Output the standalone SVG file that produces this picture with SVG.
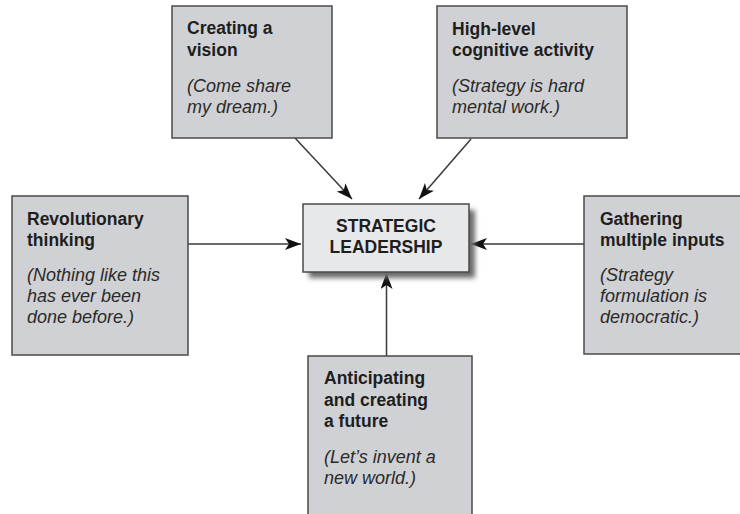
<svg xmlns="http://www.w3.org/2000/svg" width="740" height="514" viewBox="0 0 740 514">
  <style>
    .box { fill: #d0d1d4; stroke: #4a4a4a; stroke-width: 1.5; }
    .core { fill: #e7e8ea; stroke: #4a4a4a; stroke-width: 1.5; }
    .title { font-family: "Liberation Sans", Arial, sans-serif; font-size: 17.5px; font-weight: bold; fill: #1e1e1e; }
    .note { font-family: "Liberation Sans", Arial, sans-serif; font-size: 18px; font-style: italic; fill: #2a2a2a; }
    .link { stroke: #3a3a3a; stroke-width: 1.5; fill: none; marker-end: url(#head); }
  </style>
  <defs>
    <marker id="head" markerUnits="userSpaceOnUse" markerWidth="18" markerHeight="14" refX="16" refY="6" orient="auto">
      <path d="M0,0 L16,6 L0,12 L4,6 z" fill="#111"/>
    </marker>
    <filter id="soft" x="-20%" y="-30%" width="140%" height="160%">
      <feGaussianBlur stdDeviation="2.5"/>
    </filter>
  </defs>

  <rect width="740" height="514" fill="#ffffff"/>

  <g id="connectors">
    <line class="link" x1="295" y1="138" x2="352" y2="199"/>
    <line class="link" x1="471" y1="139" x2="419" y2="199"/>
    <line class="link" x1="188" y1="244" x2="301" y2="244"/>
    <line class="link" x1="584" y1="244" x2="471" y2="244"/>
    <line class="link" x1="386.5" y1="356" x2="386.5" y2="273"/>
  </g>

  <g id="vision">
    <rect class="box" x="172" y="6" width="160" height="132"/>
    <text class="title" x="187" y="34">Creating a</text>
    <text class="title" x="187" y="56">vision</text>
    <text class="note" x="187" y="92">(Come share</text>
    <text class="note" x="187" y="113">my dream.)</text>
  </g>

  <g id="cognitive">
    <rect class="box" x="437" y="6" width="190" height="132"/>
    <text class="title" x="452" y="35">High-level</text>
    <text class="title" x="452" y="56">cognitive activity</text>
    <text class="note" x="452" y="92">(Strategy is hard</text>
    <text class="note" x="452" y="113">mental work.)</text>
  </g>

  <g id="revolutionary">
    <rect class="box" x="12" y="196" width="176" height="159"/>
    <text class="title" x="27" y="225">Revolutionary</text>
    <text class="title" x="27" y="246">thinking</text>
    <text class="note" x="27" y="281">(Nothing like this</text>
    <text class="note" x="27" y="302">has ever been</text>
    <text class="note" x="27" y="323">done before.)</text>
  </g>

  <g id="inputs">
    <rect class="box" x="584" y="196" width="170" height="158"/>
    <text class="title" x="600" y="225">Gathering</text>
    <text class="title" x="600" y="246">multiple inputs</text>
    <text class="note" x="600" y="281">(Strategy</text>
    <text class="note" x="600" y="302">formulation is</text>
    <text class="note" x="600" y="323">democratic.)</text>
  </g>

  <g id="future">
    <rect class="box" x="308" y="356" width="164" height="170"/>
    <text class="title" x="324" y="384">Anticipating</text>
    <text class="title" x="324" y="406">and creating</text>
    <text class="title" x="324" y="427">a future</text>
    <text class="note" x="324" y="463">(Let’s invent a</text>
    <text class="note" x="324" y="484">new world.)</text>
  </g>

  <g id="leadership">
    <rect x="309" y="210" width="166" height="68" fill="#6a6a6a" filter="url(#soft)"/>
    <rect class="core" x="303" y="204" width="166" height="68"/>
    <text class="title" x="386" y="232" text-anchor="middle">STRATEGIC</text>
    <text class="title" x="386" y="253" text-anchor="middle">LEADERSHIP</text>
  </g>
</svg>
